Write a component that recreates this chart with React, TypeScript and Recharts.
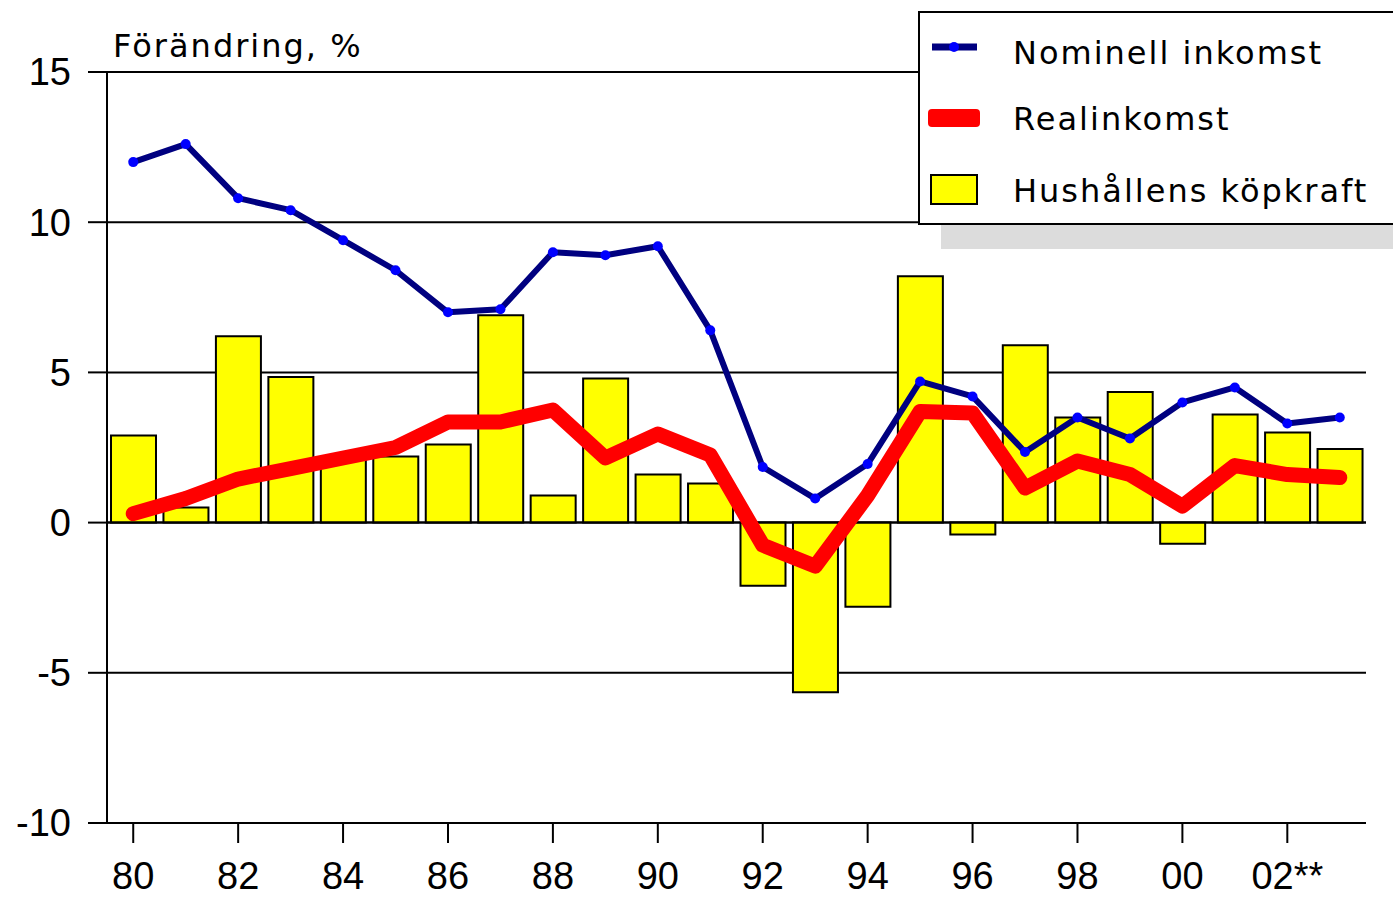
import React from "react";
import {
  ComposedChart,
  Bar,
  Line,
  XAxis,
  YAxis,
  CartesianGrid,
  ReferenceLine,
} from "recharts";

const years = [
  "80", "81", "82", "83", "84", "85", "86", "87", "88", "89", "90", "91",
  "92", "93", "94", "95", "96", "97", "98", "99", "00", "01", "02**", "03",
];
const nominellInkomst = [
  12.0, 12.6, 10.8, 10.4, 9.4, 8.4, 7.0, 7.1, 9.0, 8.9, 9.2, 6.4,
  1.85, 0.8, 1.95, 4.7, 4.2, 2.35, 3.5, 2.8, 4.0, 4.5, 3.3, 3.5,
];
const realinkomst = [
  0.3, 0.8, 1.45, 1.8, 2.15, 2.5, 3.35, 3.35, 3.75, 2.15, 2.95, 2.25,
  -0.75, -1.45, 0.9, 3.7, 3.65, 1.15, 2.05, 1.6, 0.55, 1.9, 1.6, 1.5,
];
const kopkraft = [
  2.9, 0.5, 6.2, 4.85, 2.1, 2.2, 2.6, 6.9, 0.9, 4.8, 1.6, 1.3,
  -2.1, -5.65, -2.8, 8.2, -0.4, 5.9, 3.5, 4.35, -0.7, 3.6, 3.0, 2.45,
];
const yTicks = [-10, -5, 0, 5, 10, 15];
const yTitle = "Förändring, %";
const seriesNames = ["Nominell inkomst", "Realinkomst", "Hushållens köpkraft"];

const data = years.map((y, i) => ({
  year: y,
  nom: nominellInkomst[i],
  real: realinkomst[i],
  kop: kopkraft[i],
}));

const NAVY = "#000080";
const BLUE = "#0000FF";
const RED = "#FF0000";
const YELLOW = "#FFFF00";
const tickFont = "'Liberation Sans', Arial, sans-serif";
const textFont = "'DejaVu Sans', Verdana, sans-serif";

export default function App() {
  return (
    <div
      style={{
        position: "absolute",
        left: 0,
        top: 0,
        width: 1393,
        height: 898,
        overflow: "hidden",
        background: "#fff",
      }}
    >
      <ComposedChart
        width={1393}
        height={898}
        data={data}
        margin={{ top: 72, right: 27, bottom: 0, left: 0 }}
      >
        <CartesianGrid
          vertical={false}
          stroke="#000"
          strokeWidth={2}
          strokeOpacity={1}
        />
        <XAxis
          dataKey="year"
          height={75}
          interval={1}
          tickSize={20}
          tickMargin={19}
          axisLine={{ stroke: "#000", strokeWidth: 2 }}
          tickLine={{ stroke: "#000", strokeWidth: 2 }}
          tick={{ fill: "#000", fontSize: 38, fontFamily: tickFont }}
        />
        <YAxis
          width={107}
          domain={[-10, 15]}
          ticks={yTicks}
          allowDataOverflow
          tickSize={19}
          tickMargin={17}
          axisLine={{ stroke: "#000", strokeWidth: 2 }}
          tickLine={{ stroke: "#000", strokeWidth: 2 }}
          tick={{ fill: "#000", fontSize: 38, fontFamily: tickFont }}
        />
        <YAxis
          yAxisId="right"
          orientation="right"
          width={0}
          domain={[-10, 15]}
          tick={false}
          tickLine={false}
          axisLine={{ stroke: "#000", strokeWidth: 2 }}
        />
        <Bar
          dataKey="kop"
          name={seriesNames[2]}
          fill={YELLOW}
          stroke="#000"
          strokeWidth={2}
          barSize={45}
          isAnimationActive={false}
        />
        <ReferenceLine y={0} stroke="#000" strokeWidth={2} />
        <Line
          type="linear"
          dataKey="nom"
          name={seriesNames[0]}
          stroke={NAVY}
          strokeWidth={6}
          strokeLinejoin="round"
          dot={{ r: 5, fill: BLUE, stroke: "none" }}
          isAnimationActive={false}
        />
        <Line
          type="linear"
          dataKey="real"
          name={seriesNames[1]}
          stroke={RED}
          strokeWidth={15}
          strokeLinejoin="round"
          strokeLinecap="round"
          dot={false}
          isAnimationActive={false}
        />
      </ComposedChart>
      <svg
        width={1393}
        height={898}
        style={{ position: "absolute", left: 0, top: 0, pointerEvents: "none" }}
      >
        <text
          x={113}
          y={57}
          fontFamily={textFont}
          fontSize={32}
          letterSpacing={2}
          fill="#000"
        >
          {yTitle}
        </text>
        <rect x={941} y={225} width={460} height={24} fill="#dcdcdc" />
        <rect
          x={919}
          y={12}
          width={500}
          height={212}
          fill="#fff"
          stroke="#000"
          strokeWidth={2}
        />
        <line x1={932} y1={47} x2={977} y2={47} stroke={NAVY} strokeWidth={7} />
        <circle cx={954} cy={47} r={5} fill={BLUE} />
        <rect x={928} y={109} width={52} height={18} rx={4} fill={RED} />
        <rect
          x={931}
          y={175}
          width={46}
          height={29}
          fill={YELLOW}
          stroke="#000"
          strokeWidth={2}
        />
        {seriesNames.map((n, i) => (
          <text
            key={n}
            x={1013}
            y={[64, 130, 202][i]}
            fontFamily={textFont}
            fontSize={32}
            letterSpacing={2}
            fill="#000"
          >
            {n}
          </text>
        ))}
      </svg>
    </div>
  );
}
